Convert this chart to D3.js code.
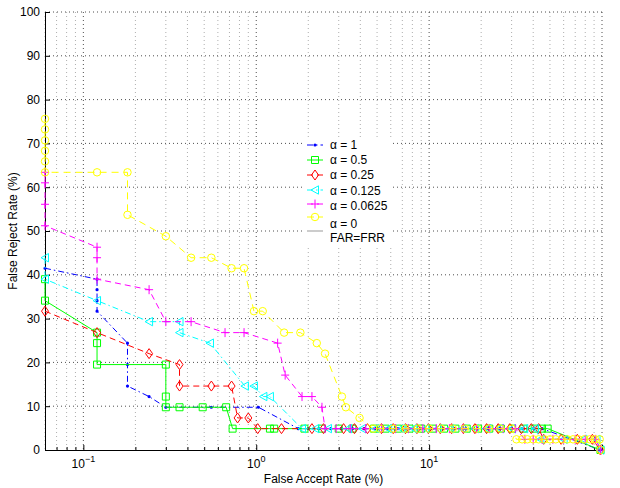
<!DOCTYPE html>
<html lang="en">
<head>
<meta charset="UTF-8">
<title>FAR vs FRR</title>
<script src="https://cdnjs.cloudflare.com/ajax/libs/d3/7.8.5/d3.min.js"></script>
<style>
    body{
        margin:0;
        background:#fff;
        font-family:"Liberation Sans", Arial, sans-serif;
    }
    svg{ display:block; }
</style>
</head>
<body>
<svg id="chart" width="620" height="488"></svg>
<script>
// values: FAR (%) and FRR (%)
// head = the stepped part, row = FAR values along the 4.88% floor,
// low = FAR values along the 2.44% floor, then every curve ends at endPoint
const ROW_FRR = 4.88, LOW_FRR = 2.44;
const endPoint = [98, 0];

const far_a1 = [0.06, 0.12, 0.12, 0.12, 0.12, 0.18, 0.18, 0.18, 0.24, 0.30, 0.55, 1.03, 1.75];
const frr_a1 = [41.5, 39.0, 36.6, 34.1, 31.7, 24.4, 19.5, 14.6, 12.2, 9.76, 9.76, 9.76, 4.88];
const row_a1 = [2.0, 2.3, 2.7, 3.1, 3.6, 4.2, 4.9, 5.7, 6.6, 7.7, 9.0, 10.4, 12.1, 14.0, 16.3, 19.0, 22.0, 25.6, 29.7, 34.5, 40.0, 45.0];
const low_a1 = [];

const far_a05 = [0.06, 0.06, 0.12, 0.12, 0.12, 0.30, 0.30, 0.30, 0.36, 0.49, 0.67, 0.73];
const frr_a05 = [39.0, 34.1, 26.8, 24.4, 19.5, 19.5, 12.2, 9.76, 9.76, 9.76, 9.76, 4.88];
const row_a05 = [1.20, 1.27, 1.9, 2.4, 3.0, 3.6, 4.8, 5.6, 6.6, 7.7, 9.0, 10.5, 12.2, 14.2, 16.5, 19.2, 22.3, 26.0, 30.2, 35.1, 40.8, 45.0, 48.5];
const low_a05 = [];

const far_a025 = [0.06, 0.12, 0.24, 0.36, 0.36, 0.55, 0.72, 0.78, 0.90, 1.02];
const frr_a025 = [31.7, 26.8, 22.0, 19.5, 14.6, 14.6, 14.6, 7.32, 7.32, 4.88];
const row_a025 = [1.4, 2.1, 2.45, 3.2, 3.7, 4.4, 5.3, 6.2, 7.3, 8.5, 9.9, 11.6, 13.5, 15.8, 18.4, 21.5, 25.1, 29.3, 34.2, 39.0, 43.0];
const low_a025 = [46, 58, 72, 88];

const far_a0125 = [0.06, 0.06, 0.12, 0.24, 0.36, 0.36, 0.54, 0.86, 0.97, 1.10, 1.20, 1.84];
const frr_a0125 = [43.9, 39.0, 34.1, 29.3, 29.3, 26.8, 24.4, 14.6, 14.6, 12.2, 12.2, 4.88];
const row_a0125 = [2.2, 2.6, 3.4, 4.1, 4.9, 5.8, 6.9, 8.1, 9.5, 11.2, 13.2, 15.6, 18.4, 21.7, 25.6, 30.2, 35.5, 41.0];
const low_a0125 = [44, 60, 78, 93];

const far_a00625 = [0.06, 0.06, 0.06, 0.06, 0.12, 0.12, 0.12, 0.24, 0.30, 0.42, 0.66, 0.85, 1.33, 1.47, 1.84, 2.10, 2.40, 2.50];
const frr_a00625 = [63.4, 61.0, 56.1, 51.2, 46.3, 43.9, 39.0, 36.6, 29.3, 29.3, 26.8, 26.8, 24.4, 17.1, 12.2, 12.2, 9.76, 4.88];
const row_a00625 = [2.9, 3.5, 4.3, 5.3, 6.4, 7.6, 9.2, 11.0, 13.1, 15.7, 18.8, 22.4, 26.8, 31.5];
const low_a00625 = [35.8, 40, 45, 52, 60, 70, 80, 92];

const far_a0 = [0.06, 0.06, 0.06, 0.06, 0.06, 0.06, 0.12, 0.18, 0.18, 0.30, 0.42, 0.55, 0.72, 0.85, 0.97, 1.09, 1.45, 1.80, 2.24, 2.50, 3.13, 3.30, 3.96];
const frr_a0 = [75.6, 73.2, 70.7, 68.3, 65.9, 63.4, 63.4, 63.4, 53.7, 48.8, 43.9, 43.9, 41.5, 41.5, 31.7, 31.7, 26.8, 26.8, 24.4, 22.0, 12.2, 9.76, 7.32];
const row_a0 = [4.75, 5.2, 6.2, 7.3, 8.6, 10.0, 11.7, 13.7, 16.1, 18.9, 22.1, 25.9, 30.0];
const low_a0 = [32, 34.5, 37, 40, 43, 46.5, 50, 54, 58.5, 63, 68, 73, 79, 85, 91, 97];

const xTickLabels = [{v: 0.1, e: "\u22121"}, {v: 1, e: "0"}, {v: 10, e: "1"}];
const yTicks = d3.range(0, 101, 10);

function build(far, frr, row, low){
    const pts = far.map((f, i) => [f, frr[i]]);
    row.forEach(f => pts.push([f, ROW_FRR]));
    low.forEach(f => pts.push([f, LOW_FRR]));
    pts.push(endPoint);
    return pts;
}

const series = [
    {name: "\u03b1 = 1",      color: "#0000ff", dash: "6,3,1.5,3", marker: "dot",     pts: build(far_a1, frr_a1, row_a1, low_a1)},
    {name: "\u03b1 = 0.5",    color: "#00ff00", dash: null,        marker: "square",  pts: build(far_a05, frr_a05, row_a05, low_a05)},
    {name: "\u03b1 = 0.25",   color: "#ff0000", dash: "6,4",       marker: "diamond", pts: build(far_a025, frr_a025, row_a025, low_a025)},
    {name: "\u03b1 = 0.125",  color: "#00ffff", dash: "6,3,1.5,3", marker: "triLeft", pts: build(far_a0125, frr_a0125, row_a0125, low_a0125)},
    {name: "\u03b1 = 0.0625", color: "#ff00ff", dash: "6,4",       marker: "plus",    pts: build(far_a00625, frr_a00625, row_a00625, low_a00625)},
    {name: "\u03b1 = 0",      color: "#ffff00", dash: "7,5",       marker: "circle",  pts: build(far_a0, frr_a0, row_a0, low_a0)}
];

const svg = d3.select("#chart");
const L = 45, R = 602, T = 12, B = 450;

const x = d3.scaleLog().domain([0.06, 100]).range([L, R]);
const y = d3.scaleLinear().domain([0, 100]).range([B, T]);

const isMajor = v => Math.abs(Math.log10(v) - Math.round(Math.log10(v))) < 1e-9;
const xAll = x.ticks();

// grid
const grid = svg.append("g");
grid.selectAll("line.v")
    .data(xAll)
    .enter().append("line")
    .attr("x1", d => x(d)).attr("x2", d => x(d))
    .attr("y1", T).attr("y2", B)
    .attr("stroke", d => isMajor(d) ? "#222" : "#999")
    .attr("stroke-width", 0.8)
    .attr("stroke-dasharray", "1,3");
grid.selectAll("line.h")
    .data(yTicks.filter(d => d > 0))
    .enter().append("line")
    .attr("x1", L).attr("x2", R)
    .attr("y1", d => y(d)).attr("y2", d => y(d))
    .attr("stroke", "#222")
    .attr("stroke-width", 0.8)
    .attr("stroke-dasharray", "1,3");

// axes
const yAxis = d3.axisLeft(y).tickValues(yTicks).tickSizeInner(-5).tickSizeOuter(0).tickPadding(5);
const gy = svg.append("g").attr("transform", `translate(${L},0)`).call(yAxis);
gy.selectAll("text").attr("font-size", 12).attr("font-family", "Liberation Sans, Arial, sans-serif").attr("fill", "#000");

const xAxis = d3.axisBottom(x).tickValues(xAll).tickFormat("").tickSizeInner(-3).tickSizeOuter(0);
const gx = svg.append("g").attr("transform", `translate(0,${B})`).call(xAxis);
gx.selectAll(".tick line").filter(d => isMajor(d)).attr("y2", -5);
svg.selectAll(".domain").attr("stroke", "#000");
svg.selectAll(".tick line").attr("stroke", "#000");

const xl = svg.append("g").attr("font-size", 12).attr("text-anchor", "middle");
xTickLabels.forEach(t => {
    const tx = xl.append("text").attr("x", x(t.v)).attr("y", 468);
    tx.append("tspan").text("10");
    tx.append("tspan").attr("dy", -6).attr("font-size", 9).text(t.e);
});

svg.append("text").attr("x", (L + R) / 2).attr("y", 483)
    .attr("text-anchor", "middle").attr("font-size", 12)
    .text("False Accept Rate (%)");
svg.append("text")
    .attr("transform", `translate(17,${(T + B) / 2}) rotate(-90)`)
    .attr("text-anchor", "middle").attr("font-size", 12)
    .text("False Reject Rate (%)");

// markers
function marker(g, type, color, cx, cy){
    const m = g.append("path").attr("transform", `translate(${cx},${cy})`)
        .attr("fill", "none").attr("stroke", color).attr("stroke-width", 1);
    if (type === "dot") m.attr("d", d3.symbol(d3.symbolCircle, 8)()).attr("fill", color).attr("stroke", "none");
    if (type === "square") m.attr("d", "M-3.5,-3.5H3.5V3.5H-3.5Z");
    if (type === "diamond") m.attr("d", "M0,-5L3.5,0L0,5L-3.5,0Z");
    if (type === "triLeft") m.attr("d", "M-4,0L3.5,-4.2L3.5,4.2Z");
    if (type === "plus") m.attr("d", "M-4,0H4M0,-4.5V4.5");
    if (type === "circle") m.attr("d", d3.symbol(d3.symbolCircle, 44)());
}

const line = d3.line().x(d => x(d[0])).y(d => y(d[1]));
const plot = svg.append("g");
series.forEach(s => {
    const g = plot.append("g");
    g.append("path").datum(s.pts)
        .attr("d", line)
        .attr("fill", "none")
        .attr("stroke", s.color)
        .attr("stroke-width", 1)
        .attr("stroke-dasharray", s.dash);
    s.pts.forEach(p => marker(g, s.marker, s.color, x(p[0]), y(p[1])));
});

// legend
const lg = svg.append("g");
lg.append("rect").attr("x", 303).attr("y", 137).attr("width", 90).attr("height", 109).attr("fill", "#fff");
const lineY = [145, 160, 175, 190, 204, 217, 231];
const textY = [145, 160, 175, 191, 206, 224, 238];
series.forEach((s, i) => {
    lg.append("line").attr("x1", 307).attr("x2", 323).attr("y1", lineY[i]).attr("y2", lineY[i])
        .attr("stroke", s.color).attr("stroke-dasharray", s.dash);
    marker(lg, s.marker, s.color, 315, lineY[i]);
    lg.append("text").attr("x", 330).attr("y", textY[i]).attr("dy", "0.35em")
        .attr("font-size", 12).text(s.name);
});
lg.append("line").attr("x1", 307).attr("x2", 323).attr("y1", lineY[6]).attr("y2", lineY[6])
    .attr("stroke", "#999");
lg.append("text").attr("x", 330).attr("y", textY[6]).attr("dy", "0.35em")
    .attr("font-size", 12).text("FAR=FRR");
</script>
</body>
</html>
